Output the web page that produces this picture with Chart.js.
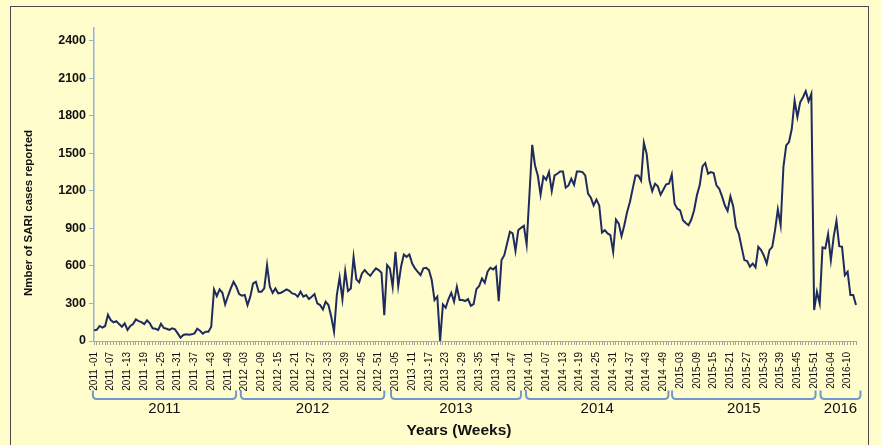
<!DOCTYPE html>
<html><head><meta charset="utf-8">
<script src="https://cdn.jsdelivr.net/npm/chart.js@4.4.0/dist/chart.umd.min.js"></script>
<style>html,body{margin:0;padding:0;background:#FFFDCC;}#wrap{width:881px;height:445px;}</style>
</head><body><div id="wrap"><canvas id="c" width="881" height="445"></canvas></div>
<script>
// ---- data ----
const years = [2011, 2012, 2013, 2014, 2015, 2016];
const weeksPerYear = [52, 52, 52, 52, 53, 13];
const sariCases = [
 85,90,120,107,120,210,167,149,159,135,114,141,88,120,135,172,159,151,135,165,
 141,101,98,88,138,104,98,88,101,93,61,27,48,53,50,53,61,98,82,59,
 74,74,114,412,359,412,385,292,359,420,473,433,375,362,367,287,354,460,473,394,
 394,420,606,433,385,420,380,385,399,412,401,380,375,354,394,354,367,335,354,375,
 300,287,252,314,287,194,75,367,508,332,558,399,420,672,492,468,540,566,540,521,
 553,580,566,545,207,606,580,433,712,438,593,691,672,691,619,580,553,527,580,585,
 566,487,327,354,0,292,266,335,385,314,433,327,327,319,335,282,295,414,439,500,
 465,553,585,572,593,319,646,686,779,872,859,720,885,904,920,771,1170,1567,1402,1322,
 1168,1314,1288,1349,1197,1322,1336,1354,1354,1224,1242,1296,1248,1354,1354,1349,1322,1177,1145,1083,
 1129,1083,866,885,859,845,712,970,938,837,925,1031,1111,1217,1322,1322,1282,1583,1495,1282,
 1197,1256,1235,1168,1210,1251,1256,1330,1097,1057,1044,964,943,925,970,1044,1164,1243,1395,1421,
 1336,1349,1341,1243,1216,1155,1084,1039,1155,1076,911,858,752,646,638,593,619,588,752,726,
 681,619,726,752,885,1052,925,1390,1562,1589,1695,1921,1788,1907,1947,1995,1915,1974,247,393,
 300,747,739,853,646,832,959,757,752,526,553,367,367,287
];
const yTicks = [0, 300, 600, 900, 1200, 1500, 1800, 2100, 2400];
// year brackets under the axis, in week-index units
const bracketFrom = [-0.4, 52.6, 106.4, 154.8, 207.1, 260.3];
const bracketTo   = [50.9, 104.0, 153.0, 205.8, 258.5, 274.6];
const labelEvery = 6;
const yTitle = 'Nmber of SARI cases reported';
const xTitle = 'Years (Weeks)';

// ---- build categories ----
const weekLabels = [];
years.forEach((y, k) => {
  for (let w = 1; w <= weeksPerYear[k]; w++) {
    const ww = String(w).padStart(2, '0');
    weekLabels.push(y <= 2014 ? `${y} -${ww}` : `${y}-${ww}`);
  }
});

const BG = '#FFFDCC';
const FONT = '"Liberation Sans", Arial, sans-serif';

const decor = {
  id: 'decor',
  beforeDraw(chart) {
    const ctx = chart.ctx;
    ctx.save();
    ctx.fillStyle = BG;
    ctx.fillRect(0, 0, chart.width, chart.height);
    ctx.strokeStyle = '#4a4a4a';
    ctx.lineWidth = 1;
    ctx.strokeRect(10.5, 6.5, 858, 460);
    ctx.restore();
  },
  afterDraw(chart) {
    const ctx = chart.ctx;
    const xs = chart.scales.x;
    ctx.save();
    // y title
    ctx.fillStyle = '#111';
    ctx.font = 'bold 11.5px ' + FONT;
    ctx.textAlign = 'center';
    ctx.textBaseline = 'middle';
    ctx.translate(29, 213);
    ctx.rotate(-Math.PI / 2);
    ctx.fillText(yTitle, 0, 0);
    ctx.restore();

    ctx.save();
    // brackets
    const yTop = 390.5, yBot = 399, r = 4;
    ctx.strokeStyle = '#6E98CF';
    ctx.lineWidth = 2;
    years.forEach((yr, k) => {
      const x0 = xs.getPixelForValue(bracketFrom[k]);
      const x1 = xs.getPixelForValue(bracketTo[k]);
      ctx.beginPath();
      ctx.moveTo(x0, yTop);
      ctx.lineTo(x0, yBot - r);
      ctx.quadraticCurveTo(x0, yBot, x0 + r, yBot);
      ctx.lineTo(x1 - r, yBot);
      ctx.quadraticCurveTo(x1, yBot, x1, yBot - r);
      ctx.lineTo(x1, yTop);
      ctx.stroke();
      ctx.fillStyle = '#111';
      ctx.font = '15px ' + FONT;
      ctx.textAlign = 'center';
      ctx.textBaseline = 'middle';
      ctx.fillText(String(yr), (x0 + x1) / 2, 409);
    });
    // x title
    ctx.font = 'bold 15.5px ' + FONT;
    ctx.fillStyle = '#111';
    ctx.textAlign = 'center';
    ctx.textBaseline = 'middle';
    ctx.fillText(xTitle, 459, 431);
    ctx.restore();
  }
};

new Chart(document.getElementById('c'), {
  type: 'line',
  data: {
    labels: weekLabels,
    datasets: [{
      data: sariCases,
      borderColor: '#1F2B5E',
      borderWidth: 2,
      pointRadius: 0,
      tension: 0,
      fill: false
    }]
  },
  options: {
    responsive: false,
    animation: false,
    devicePixelRatio: 1,
    layout: { padding: { left: 0, top: 28, right: 25, bottom: 0 } },
    plugins: { legend: { display: false }, tooltip: { enabled: false }, title: { display: false } },
    scales: {
      x: {
        type: 'category',
        offset: false,
        afterFit(s) { s.height = 104; },
        border: { display: true, color: '#A8A8A8', width: 1 },
        grid: { display: true, drawOnChartArea: false, drawTicks: true, tickLength: 4, color: '#A0A0A0' },
        ticks: {
          autoSkip: false,
          maxRotation: 90,
          minRotation: 90,
          padding: 7,
          color: '#111',
          font: { size: 10, family: FONT },
          callback(v, i) { return i % labelEvery === 0 ? this.getLabelForValue(v) : ''; }
        }
      },
      y: {
        min: 0,
        max: 2500,
        afterFit(s) { s.width = 94; },
        afterBuildTicks(s) { s.ticks = yTicks.map(v => ({ value: v })); },
        border: { display: true, color: '#8FB3DD', width: 1.5 },
        grid: { display: true, drawOnChartArea: false, drawTicks: true, tickLength: 5, color: '#8FB3DD' },
        ticks: {
          padding: 3, color: '#111',
          font: { size: 12.5, weight: 'bold', family: FONT },
          callback(v) { return String(v); }
        }
      }
    }
  },
  plugins: [decor]
});
</script>
</body></html>
